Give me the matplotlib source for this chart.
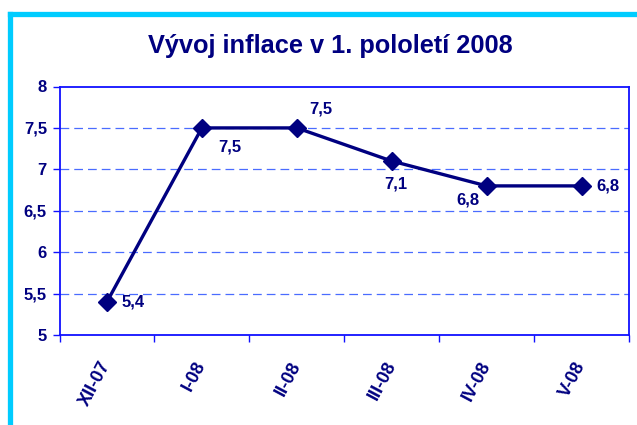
import matplotlib
matplotlib.use("Agg")
import matplotlib.pyplot as plt
from matplotlib.lines import Line2D

plt.rcParams['font.family'] = ['Liberation Sans', 'DejaVu Sans']

# data
months = ["XII-07", "I-08", "II-08", "III-08", "IV-08", "V-08"]
inflation = [5.4, 7.5, 7.5, 7.1, 6.8, 6.8]
y_ticks = [5, 5.5, 6, 6.5, 7, 7.5, 8]
# label offsets in points (dx, dy) for each data label
label_offsets = [(19, 0), (20, -13.7), (17.3, 13.3), (3.2, -16.6), (-13.7, -10), (19, 0)]

navy = "#000080"
frame_blue = "#1010ff"
grid_blue = "#4a6cff"

W, H = 637, 425
fig = plt.figure(figsize=(W / 100, H / 100), dpi=100)
ax = fig.add_axes([59.5 / W, 1 - 335 / H, (629 - 59.5) / W, (335 - 86.5) / H])

x = list(range(len(months)))
ax.plot(x, inflation, color=navy, lw=2.4, marker="D", ms=9, mfc=navy, mec=navy, zorder=3)

for xi, yi, (dx, dy) in zip(x, inflation, label_offsets):
    ax.annotate(f"{yi:.1f}".replace(".", ","), (xi, yi), xytext=(dx, dy),
                textcoords="offset points", ha="center", va="center",
                fontsize=12, fontweight="bold", color=navy)

ax.set_xlim(-0.5, len(months) - 0.5)
ax.set_ylim(5, 8)

for yv in y_ticks[1:-1]:
    ax.axhline(yv, color=grid_blue, lw=0.9, ls=(0, (7, 4)), zorder=1)

ax.set_yticks(y_ticks)
ax.set_yticklabels([f"{v:g}".replace(".", ",") for v in y_ticks])
ax.set_xticks(x)
ax.set_xticklabels(months, rotation=62, ha="right", va="center", rotation_mode="anchor")
ax.set_xticks([i - 0.5 for i in range(len(months) + 1)], minor=True)

ax.tick_params(axis="x", which="major", length=0, pad=20)
ax.tick_params(axis="x", which="minor", length=5, color=frame_blue, width=1)
ax.tick_params(axis="y", length=5, color=frame_blue, width=1, pad=4)
for lab in ax.get_yticklabels():
    lab.set_fontsize(12)
    lab.set_fontweight("bold")
    lab.set_color(navy)
for lab in ax.get_xticklabels():
    lab.set_fontsize(13)
    lab.set_fontweight("bold")
    lab.set_color(navy)

for sp in ax.spines.values():
    sp.set_color(frame_blue)
    sp.set_linewidth(1.3)

fig.text(330 / W, 1 - 53 / H, "Vývoj inflace v 1. pololetí 2008", ha="center", va="baseline",
         fontsize=18.3, fontweight="bold", color=navy)

# cyan outer border (left and top edges visible)
cyan = "#00ccff"
fig.add_artist(Line2D([9.5 / W, 9.5 / W], [0, 1 - 14 / H], color=cyan, lw=3.8,
                      transform=fig.transFigure, solid_capstyle="projecting"))
fig.add_artist(Line2D([9.5 / W, 1], [1 - 14 / H, 1 - 14 / H], color=cyan, lw=3.8,
                      transform=fig.transFigure, solid_capstyle="projecting"))

fig.savefig("out.png", dpi=100)
